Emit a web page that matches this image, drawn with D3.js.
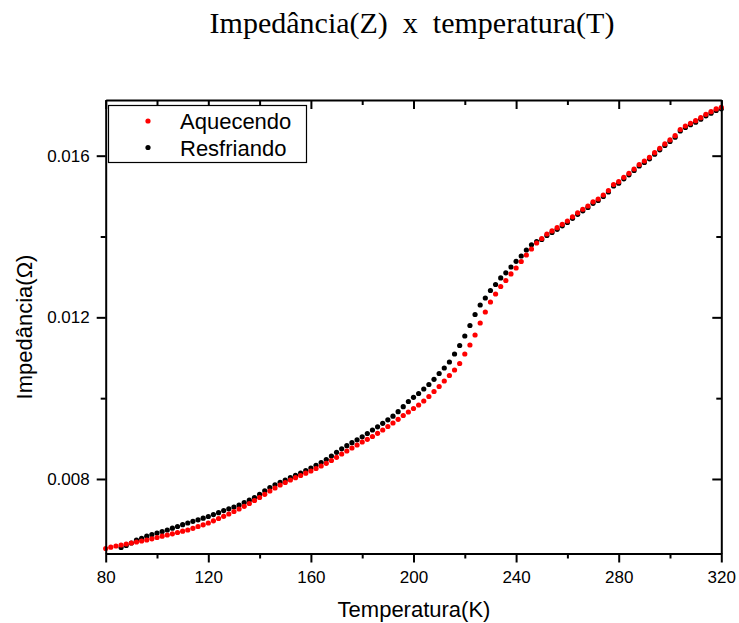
<!DOCTYPE html>
<html>
<head>
<meta charset="utf-8">
<script src="https://cdn.jsdelivr.net/npm/d3@7"></script>
<style>
  body { margin: 0; background: #fff; }
  svg { display: block; }
  .axis path, .axis line { stroke: #000; stroke-width: 2; }
  .axis text { font-family: "Liberation Sans", Arial, sans-serif; font-size: 17px; fill: #000; }
</style>
</head>
<body>
<div id="chart"></div>
<script>
// Aquecendo (heating) - temperature (K) and impedance (ohm)
const tempAquecendo = [80, 82, 84, 86, 88, 90, 92, 94, 96, 98, 100, 102, 104, 106, 108, 110, 112, 114, 116, 118,
    120, 122, 124, 126, 128, 130, 132, 134, 136, 138, 140, 142, 144, 146, 148, 150, 152, 154, 156, 158,
    160, 162, 164, 166, 168, 170, 172, 174, 176, 178, 180, 182, 184, 186, 188, 190, 192, 194, 196, 198,
    200, 202, 204, 206, 208, 210, 212, 214, 216, 218, 220, 222, 224, 226, 228, 230, 232, 234, 236, 238,
    240, 242, 244, 246, 248, 250, 252, 254, 256, 258, 260, 262, 264, 266, 268, 270, 272, 274, 276, 278,
    280, 282, 284, 286, 288, 290, 292, 294, 296, 298, 300, 302, 304, 306, 308, 310, 312, 314, 316, 318, 320];
const impAquecendo = [0.006280, 0.006312, 0.006341, 0.006366, 0.006391, 0.006416, 0.006440, 0.006465, 0.006490, 0.006520,
    0.006552, 0.006584, 0.006614, 0.006643, 0.006676, 0.006708, 0.006737, 0.006779, 0.006824, 0.006866,
    0.006911, 0.006965, 0.007022, 0.007076, 0.007133, 0.007195, 0.007257, 0.007324, 0.007393, 0.007467,
    0.007542, 0.007621, 0.007703, 0.007777, 0.007851, 0.007913, 0.007975, 0.008032, 0.008086, 0.008143,
    0.008197, 0.008259, 0.008321, 0.008388, 0.008457, 0.008536, 0.008618, 0.008692, 0.008767, 0.008841,
    0.008915, 0.008982, 0.009051, 0.009130, 0.009212, 0.009299, 0.009385, 0.009477, 0.009571, 0.009657,
    0.009744, 0.009831, 0.009930, 0.010041, 0.010165, 0.010289, 0.010425, 0.010561, 0.010697, 0.010858,
    0.011093, 0.011316, 0.011563, 0.011860, 0.012132, 0.012380, 0.012578, 0.012763, 0.012912, 0.013073,
    0.013221, 0.013382, 0.013543, 0.013691, 0.013840, 0.013951, 0.014062, 0.014137, 0.014218, 0.014302,
    0.014384, 0.014488, 0.014587, 0.014674, 0.014755, 0.014859, 0.014928, 0.015027, 0.015139, 0.015287,
    0.015357, 0.015465, 0.015564, 0.015671, 0.015782, 0.015869, 0.015960, 0.016074, 0.016183, 0.016290,
    0.016389, 0.016495, 0.016648, 0.016735, 0.016802, 0.016866, 0.016940, 0.017024, 0.017089, 0.017156, 0.017198];

// Resfriando (cooling)
const tempResfriando = [86, 88, 90, 92, 94, 96, 98, 100, 102, 104, 106, 108, 110, 112, 114, 116, 118,
    120, 122, 124, 126, 128, 130, 132, 134, 136, 138, 140, 142, 144, 146, 148, 150, 152, 154, 156, 158,
    160, 162, 164, 166, 168, 170, 172, 174, 176, 178, 180, 182, 184, 186, 188, 190, 192, 194, 196, 198,
    200, 202, 204, 206, 208, 210, 212, 214, 216, 218, 220, 222, 224, 226, 228, 230, 232, 234, 236, 238,
    240, 242, 244, 246, 248, 250, 252, 254, 256, 258, 260, 262, 264, 266, 268, 270, 272, 274, 276, 278,
    280, 282, 284, 286, 288, 290, 292, 294, 296, 298, 300, 302, 304, 306, 308, 310, 312, 314, 316, 318, 320];
const impResfriando = [0.006304, 0.006354, 0.006416, 0.006485, 0.006532, 0.006584, 0.006626, 0.006663, 0.006700, 0.006738,
    0.006782, 0.006824, 0.006869, 0.006911, 0.006953, 0.006990, 0.007029,
    0.007071, 0.007119, 0.007166, 0.007217, 0.007262, 0.007307, 0.007356, 0.007416, 0.007475, 0.007542,
    0.007621, 0.007707, 0.007789, 0.007856, 0.007918, 0.007975, 0.008032, 0.008091, 0.008148, 0.008210,
    0.008272, 0.008339, 0.008408, 0.008482, 0.008569, 0.008660, 0.008747, 0.008824, 0.008898, 0.008970,
    0.009044, 0.009125, 0.009212, 0.009291, 0.009378, 0.009464, 0.009554, 0.009665, 0.009789, 0.009917,
    0.010021, 0.010115, 0.010227, 0.010338, 0.010467, 0.010610, 0.010746, 0.010895, 0.011093, 0.011303,
    0.011538, 0.011798, 0.012070, 0.012305, 0.012479, 0.012664, 0.012813, 0.012974, 0.013102, 0.013246,
    0.013387, 0.013518, 0.013666, 0.013795, 0.013877, 0.013926, 0.014025, 0.014099, 0.014179, 0.014265,
    0.014347, 0.014451, 0.014550, 0.014636, 0.014718, 0.014822, 0.014891, 0.014990, 0.015102, 0.015250,
    0.015319, 0.015428, 0.015527, 0.015634, 0.015745, 0.015832, 0.015923, 0.016037, 0.016146, 0.016252,
    0.016351, 0.016458, 0.016611, 0.016698, 0.016765, 0.016829, 0.016903, 0.016987, 0.017052, 0.017119, 0.017161];

// Tick values
const xMajorTicks = [80, 120, 160, 200, 240, 280, 320];
const xMinorTicks = [100, 140, 180, 220, 260, 300];
const yMajorTicks = [0.008, 0.012, 0.016];
const yMinorTicks = [0.010, 0.014];

const width = 739;
const height = 623;
const plot = { left: 105.7, right: 721.3, top: 100, bottom: 553.5 };

const svg = d3.select('#chart')
    .append('svg')
    .attr('width', width)
    .attr('height', height);

const xScale = d3.scaleLinear()
    .domain([80, 320])
    .range([plot.left, plot.right]);

const yScale = d3.scaleLinear()
    .domain([0.006156, 0.017378])
    .range([plot.bottom, plot.top]);

// Title
svg.append('text')
    .attr('x', 412)
    .attr('y', 33)
    .attr('text-anchor', 'middle')
    .style('font-family', '"Liberation Serif", "Times New Roman", serif')
    .style('font-size', '30px')
    .style('white-space', 'pre')
    .text('Impedância(Z)  x  temperatura(T)');

// Dots - cooling first, heating drawn on top
const resfriando = tempResfriando.map((t, i) => ({ t: t, z: impResfriando[i] }));
const aquecendo = tempAquecendo.map((t, i) => ({ t: t, z: impAquecendo[i] }));

svg.append('g')
    .selectAll('circle')
    .data(resfriando)
    .enter()
    .append('circle')
    .attr('cx', d => xScale(d.t))
    .attr('cy', d => yScale(d.z))
    .attr('r', 2.6)
    .attr('fill', '#000');

svg.append('g')
    .selectAll('circle')
    .data(aquecendo)
    .enter()
    .append('circle')
    .attr('cx', d => xScale(d.t))
    .attr('cy', d => yScale(d.z))
    .attr('r', 2.6)
    .attr('fill', '#ff0000');

// Bottom axis (outward ticks)
const bottomAxis = svg.append('g')
    .attr('class', 'axis')
    .attr('transform', `translate(0,${plot.bottom})`);
bottomAxis.call(d3.axisBottom(xScale).tickValues(xMajorTicks).tickSize(9).tickSizeOuter(0).tickPadding(8));
bottomAxis.append('g')
    .call(d3.axisBottom(xScale).tickValues(xMinorTicks).tickSize(5).tickFormat(''))
    .select('.domain').remove();

// Top axis (inward ticks, no labels)
const topAxis = svg.append('g')
    .attr('class', 'axis')
    .attr('transform', `translate(0,${plot.top})`);
topAxis.call(d3.axisBottom(xScale).tickValues(xMajorTicks).tickSize(9).tickSizeOuter(0).tickFormat(''));
topAxis.append('g')
    .call(d3.axisBottom(xScale).tickValues(xMinorTicks).tickSize(5).tickFormat(''))
    .select('.domain').remove();

// Left axis (outward ticks)
const leftAxis = svg.append('g')
    .attr('class', 'axis')
    .attr('transform', `translate(${plot.left},0)`);
leftAxis.call(d3.axisLeft(yScale).tickValues(yMajorTicks).tickSize(9).tickSizeOuter(0).tickPadding(7).tickFormat(d3.format('.3f')));
leftAxis.append('g')
    .call(d3.axisLeft(yScale).tickValues(yMinorTicks).tickSize(5).tickFormat(''))
    .select('.domain').remove();

// Right axis (inward ticks, no labels)
const rightAxis = svg.append('g')
    .attr('class', 'axis')
    .attr('transform', `translate(${plot.right},0)`);
rightAxis.call(d3.axisLeft(yScale).tickValues(yMajorTicks).tickSize(9).tickSizeOuter(0).tickFormat(''));
rightAxis.append('g')
    .call(d3.axisLeft(yScale).tickValues(yMinorTicks).tickSize(5).tickFormat(''))
    .select('.domain').remove();

// Axis labels
svg.append('text')
    .attr('x', 414)
    .attr('y', 617)
    .attr('text-anchor', 'middle')
    .style('font-family', '"Liberation Sans", Arial, sans-serif')
    .style('font-size', '22px')
    .text('Temperatura(K)');

svg.append('text')
    .attr('transform', 'rotate(-90)')
    .attr('x', -327)
    .attr('y', 32)
    .attr('text-anchor', 'middle')
    .style('font-family', '"Liberation Sans", Arial, sans-serif')
    .style('font-size', '22px')
    .text('Impedância(Ω)');

// Legend
const legendItems = [
    { label: 'Aquecendo', color: '#ff0000' },
    { label: 'Resfriando', color: '#000' }
];

const legend = svg.append('g');
legend.append('rect')
    .attr('x', 108.5)
    .attr('y', 105.5)
    .attr('width', 198)
    .attr('height', 57)
    .attr('fill', '#fff')
    .attr('stroke', '#000')
    .attr('stroke-width', 1.2);

legendItems.forEach((item, i) => {
    legend.append('circle')
        .attr('cx', 148)
        .attr('cy', 121 + i * 26.5)
        .attr('r', 2.6)
        .attr('fill', item.color);
    legend.append('text')
        .attr('x', 180)
        .attr('y', 129 + i * 26.5)
        .style('font-family', '"Liberation Sans", Arial, sans-serif')
        .style('font-size', '22px')
        .text(item.label);
});
</script>
</body>
</html>
